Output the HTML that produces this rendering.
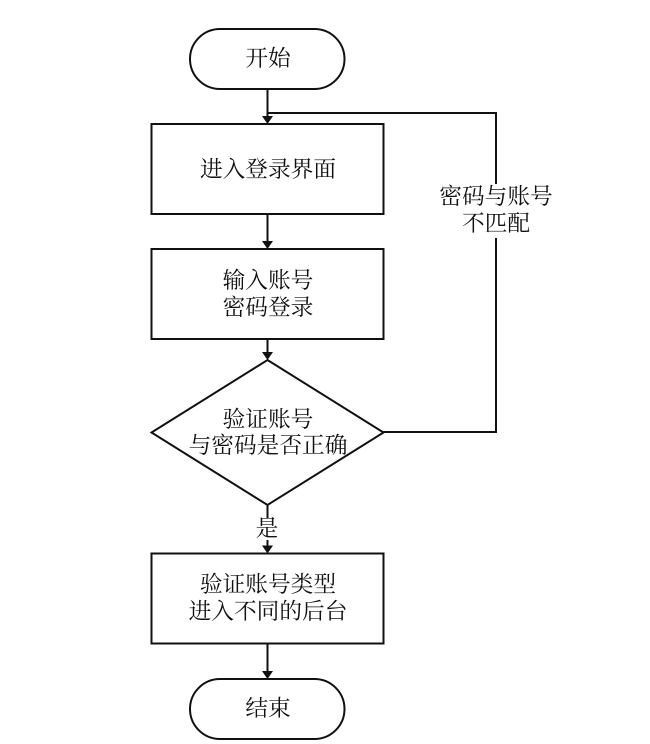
<!DOCTYPE html>
<html><head><meta charset="utf-8"><style>
html,body{margin:0;padding:0;background:#fff}
svg{display:block}
text{font-family:"Liberation Serif","Noto Serif CJK SC",serif;font-size:22.7px;fill:#111;text-anchor:middle}
</style></head><body>
<svg width="650" height="744" viewBox="0 0 650 744" xmlns="http://www.w3.org/2000/svg">
<g fill="none" stroke="#111" stroke-width="2">
<rect x="190" y="29" width="154.500" height="60" rx="30" ry="30"/>
<rect x="151.500" y="124" width="232" height="90"/>
<rect x="151.500" y="249" width="232" height="90"/>
<polygon points="267.500,360 383.500,432.500 267.500,505 151.500,432.500"/>
<rect x="151.500" y="553.500" width="232" height="90"/>
<rect x="190" y="679" width="154.500" height="60" rx="30" ry="30"/>
<path d="M267.500 89V117M267.500 214V242M267.500 339V353M267.500 505V518M267.500 540V546M267.500 644V672"/>
<path d="M267.500 113H496V184M496 238V432H383.500"/>
</g>
<g fill="#111">
<polygon points="262,116 273,116 267.500,124"/>
<polygon points="262,241 273,241 267.500,249"/>
<polygon points="262,352 273,352 267.500,360"/>
<polygon points="262,545.500 273,545.500 267.500,553.500"/>
<polygon points="262,671 273,671 267.500,679"/>
</g>
<text x="268" y="66">开始</text>
<text x="268" y="177">进入登录界面</text>
<text x="268" y="288">输入账号</text>
<text x="268" y="315">密码登录</text>
<text x="268" y="427">验证账号</text>
<text x="268" y="453">与密码是否正确</text>
<text x="267" y="536">是</text>
<text x="268" y="592">验证账号类型</text>
<text x="268" y="619">进入不同的后台</text>
<text x="268" y="716">结束</text>
<text x="496" y="204">密码与账号</text>
<text x="496" y="231">不匹配</text>
</svg>
</body></html>
